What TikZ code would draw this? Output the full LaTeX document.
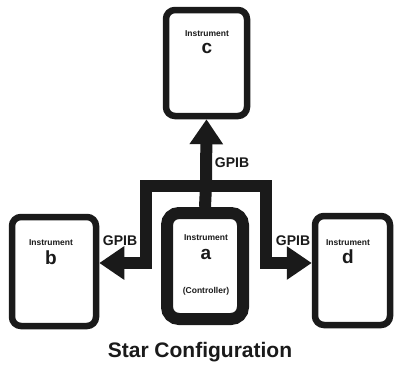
\documentclass[tikz,border=0pt]{standalone}
\usepackage{fontspec}
\setmainfont{Liberation Sans}
\usetikzlibrary{arrows.meta}
\definecolor{ink}{HTML}{1A1A1A}
\begin{document}
\begin{tikzpicture}[x=1pt,y=-1pt,
  inst/.style={draw=ink, line width=6.5pt, rounded corners=9pt, fill=white, inner sep=0pt},
  ctrl/.style={draw=ink, line width=12pt, rounded corners=12pt, fill=white, inner sep=0pt},
  bus/.style={draw=ink, line width=12pt, line join=miter},
  tip/.tip={Triangle[width=32pt,length=25pt]},
  small/.style={font=\bfseries\fontsize{8.5}{10}\selectfont, text=ink, inner sep=0pt},
  letter/.style={font=\bfseries\fontsize{19}{22}\selectfont, text=ink, inner sep=0pt},
  gpib/.style={font=\bfseries\fontsize{14}{16}\selectfont, text=ink, inner sep=0pt}]
\useasboundingbox (0,0) rectangle (397,370);
\fill[white] (0,0) rectangle (397,370);
% instruments
\node[inst, minimum width=81pt, minimum height=106pt] (c) at (206.5,63) {};
\node[inst, minimum width=84pt, minimum height=109pt] (b) at (54,271.5) {};
\node[inst, minimum width=75pt, minimum height=109pt] (d) at (352.5,270.5) {};
\node[ctrl, minimum width=76pt, minimum height=106pt] (a) at (205,266) {};
% bus
\coordinate (hub) at (206,186);
\coordinate (L) at (146,263);
\coordinate (R) at (266,263);
\draw[bus, tip-tip] (b.east |- L) -- (L) |- (hub) -| (R) -- (d.west |- R);
\draw[bus] (a.north) -- (hub);
\draw[bus, -tip] (hub) -- (c.south);
% texts
\node[small] (tc) at (207,34) {Instrument};
\node[letter] (lc) at (207,48) {c};
\node[small] (tb) at (51,243) {Instrument};
\node[letter] (lb) at (51,258) {b};
\node[small] (td) at (348,243) {Instrument};
\node[letter] (ld) at (348,257) {d};
\node[small] (ta) at (206,238) {Instrument};
\node[letter] (la) at (206,254) {a};
\node[small] (tctl) at (206,291) {(Controller)};
\node[gpib] (g1) at (232,163) {GPIB};
\node[gpib] (g2) at (120,241) {GPIB};
\node[gpib] (g3) at (293,241) {GPIB};
\node[font=\bfseries\fontsize{21}{24}\selectfont, text=ink, inner sep=0pt] (title) at (200,352) {Star Configuration};
\end{tikzpicture}
\end{document}
